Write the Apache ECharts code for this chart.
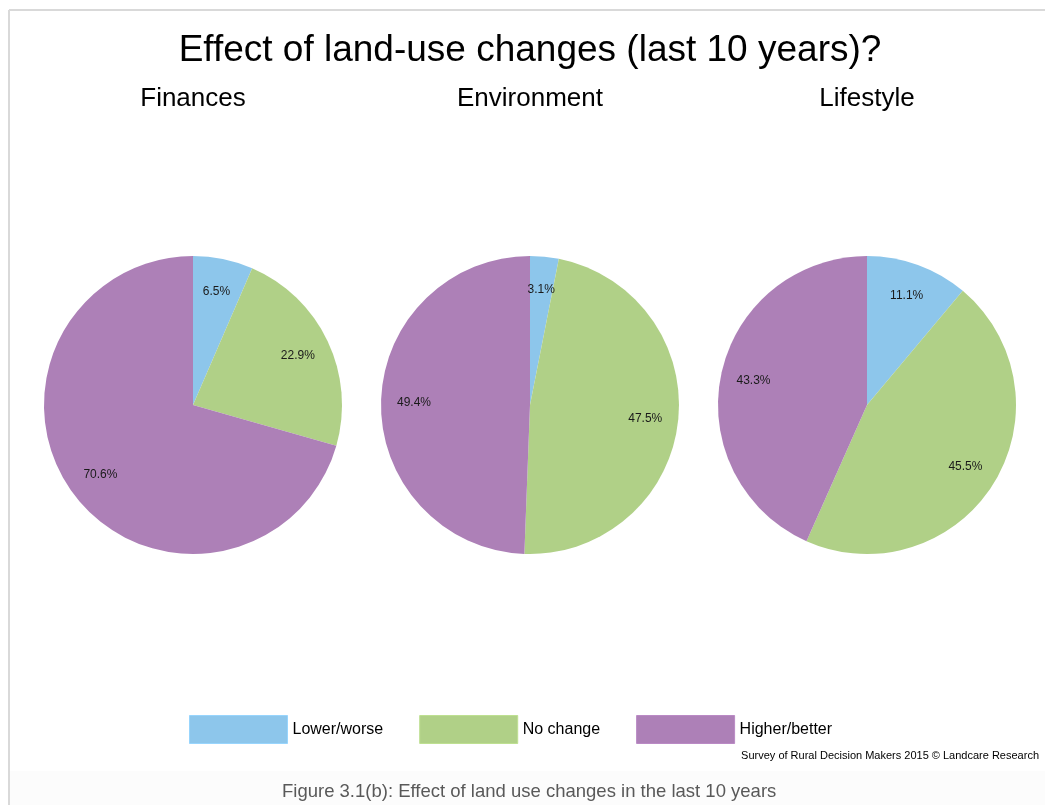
<!DOCTYPE html>
<html>
<head>
<meta charset="utf-8">
<script src="https://cdn.jsdelivr.net/npm/echarts@6/dist/echarts.min.js"></script>
<style>
html, body { margin: 0; padding: 0; background: #fff; }
#main { width: 1045px; height: 805px; }
</style>
</head>
<body>
<div id="main"></div>
<script>
// categories and values
var categories = ['Lower/worse', 'No change', 'Higher/better'];
var panels = ['Finances', 'Environment', 'Lifestyle'];
var finances = [6.5, 22.9, 70.6];
var environment = [3.1, 47.5, 49.4];
var lifestyle = [11.1, 45.5, 43.3];
var colors = ['#8DC6EB', '#B0D087', '#AD80B7'];

var values = [finances, environment, lifestyle];
var centers = [[193, 405], [530, 405], [867, 405]];
var R = 149;

var myChart = echarts.init(document.getElementById('main'));

function toData(arr) {
    return arr.map(function (v, i) {
        return {name: categories[i], value: v, itemStyle: {color: colors[i]}};
    });
}

var series = [];
var titles = [{
    text: 'Effect of land-use changes (last 10 years)?',
    left: 530, top: 32, textAlign: 'center', padding: 0,
    textStyle: {fontFamily: 'Liberation Sans', fontSize: 37, fontWeight: 'normal', color: '#000'}
}];
panels.forEach(function (p, k) {
    titles.push({
        text: p, left: centers[k][0], top: 86, textAlign: 'center', padding: 0,
        textStyle: {fontFamily: 'Liberation Sans', fontSize: 26, fontWeight: 'normal', color: '#000'}
    });
    // the pie itself
    series.push({
        type: 'pie', center: centers[k], radius: [0, R],
        startAngle: 90, clockwise: true, silent: true,
        label: {show: false}, labelLine: {show: false},
        data: toData(values[k])
    });
    // transparent ring only to place the labels further out
    series.push({
        type: 'pie', center: centers[k], radius: [77, R],
        startAngle: 90, clockwise: true, silent: true,
        itemStyle: {color: 'rgba(0,0,0,0)'},
        label: {
            show: true, position: 'inside',
            formatter: function (d) { return d.value.toFixed(1) + '%'; },
            fontFamily: 'Liberation Sans', fontSize: 12, color: '#1a1a1a'
        },
        data: values[k].map(function (v, i) {
            return {name: categories[i], value: v, itemStyle: {color: 'rgba(0,0,0,0)'}};
        })
    });
});

option = {
    backgroundColor: '#fff',
    animation: false,
    title: titles,
    legend: {
        left: 189, top: 715, padding: 0,
        itemWidth: 98, itemHeight: 28, itemGap: 36,
        icon: 'rect',
        selectedMode: false,
        textStyle: {fontFamily: 'Liberation Sans', fontSize: 16, color: '#000'},
        data: categories.map(function (c, i) {
            return {name: c, itemStyle: {color: colors[i], borderColor: echarts.color.lift(colors[i], -0.08), borderWidth: 1}};
        })
    },
    graphic: [
        {type: 'rect', shape: {x: 9, y: 771, width: 1040, height: 40}, style: {fill: '#fcfcfc'}, z: -10},
        {type: 'line', shape: {x1: 9, y1: 10, x2: 1045, y2: 10}, style: {stroke: '#d9d9d9', lineWidth: 2}},
        {type: 'line', shape: {x1: 9, y1: 10, x2: 9, y2: 805}, style: {stroke: '#d9d9d9', lineWidth: 2}},
        {type: 'text', right: 6, top: 750,
            style: {text: 'Survey of Rural Decision Makers 2015 \u00a9 Landcare Research',
                font: '11px "Liberation Sans"', fill: '#000'}},
        {type: 'text', left: 282, top: 782,
            style: {text: 'Figure 3.1(b): Effect of land use changes in the last 10 years',
                font: '18.5px "Liberation Sans"', fill: '#595959'}}
    ],
    series: series
};

myChart.setOption(option);
</script>
</body>
</html>
